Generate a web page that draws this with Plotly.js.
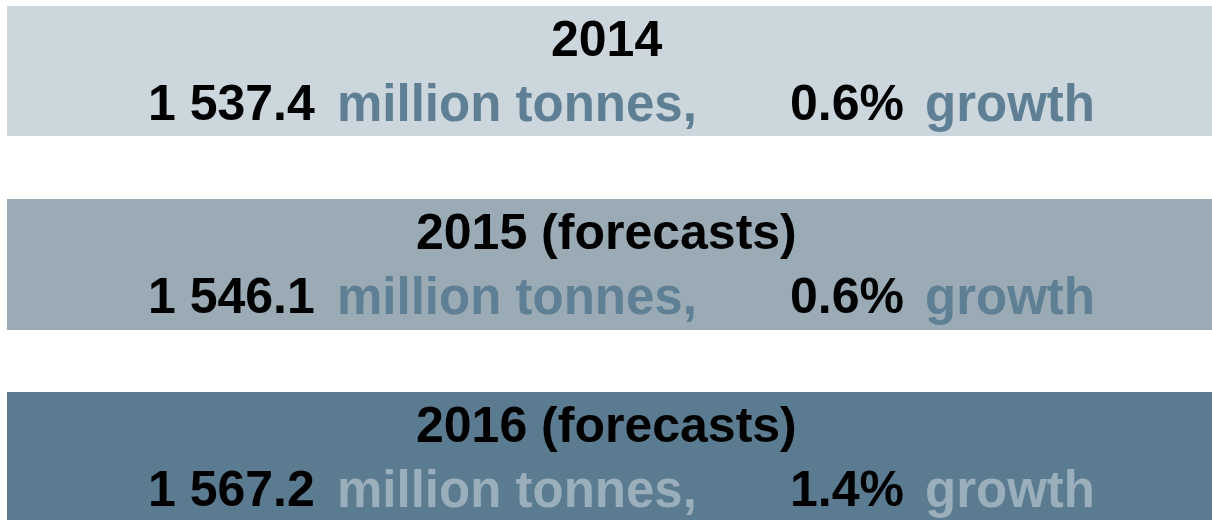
<!DOCTYPE html>
<html>
<head>
<meta charset="utf-8">
<script src="https://cdn.plot.ly/plotly-3.0.1.min.js"></script>
<style>html,body{margin:0;padding:0;background:#fff;}#chart{width:1212px;height:520px;}</style>
</head>
<body>
<div id="chart"></div>
<script>
// Data
const years = ['2014', '2015 (forecasts)', '2016 (forecasts)'];
const volumes = [1537.4, 1546.1, 1567.2];
const growthPct = [0.6, 0.6, 1.4];
const unitLabel = 'million tonnes,';
const growthLabel = 'growth';

// Styles
const bandColors = ['#cbd6dd', '#9aabb5', '#5b7b90'];
const labelColors = ['#5f7f94', '#5f7f94', '#9aaebb'];
const bandTop = [6, 199, 392];
const bandBottom = [136, 330, 520];
const FONT = '"Liberation Sans", Arial, sans-serif';

function fmt(v) {
  const parts = v.toFixed(1).split('.');
  const intPart = parts[0].replace(/\B(?=(\d{3})+(?!\d))/g, ' ');
  return intPart + '.' + parts[1];
}

function ann(x, y, anchor, text, size, color) {
  return {
    xref: 'x', yref: 'y', x: x, y: y,
    xanchor: anchor, yanchor: 'middle', showarrow: false,
    text: '<b>' + text + '</b>',
    font: {family: FONT, size: size, color: color}
  };
}

const shapes = [];
const annotations = [];
years.forEach((yr, i) => {
  shapes.push({
    type: 'rect', xref: 'x', yref: 'y',
    x0: 7, x1: 1212, y0: bandTop[i], y1: bandBottom[i],
    fillcolor: bandColors[i], line: {width: 0}, layer: 'below'
  });
  const y2 = bandTop[i] + 97;
  annotations.push(ann(606, bandTop[i] + 33, 'center', yr, 50, '#000000'));
  annotations.push(ann(146, y2, 'left', fmt(volumes[i]), 50, '#000000'));
  annotations.push(ann(335, y2, 'left', unitLabel, 51, labelColors[i]));
  annotations.push(ann(788, y2, 'left', growthPct[i].toFixed(1) + '%', 50, '#000000'));
  annotations.push(ann(923, y2, 'left', growthLabel, 51, labelColors[i]));
});

const layout = {
  width: 1212, height: 520,
  margin: {l: 0, r: 0, t: 0, b: 0, pad: 0},
  paper_bgcolor: '#ffffff', plot_bgcolor: '#ffffff',
  xaxis: {range: [0, 1212], visible: false, fixedrange: true},
  yaxis: {range: [520, 0], visible: false, fixedrange: true},
  shapes: shapes,
  annotations: annotations,
  showlegend: false
};

Plotly.newPlot('chart', [], layout, {staticPlot: true, displayModeBar: false});
</script>
</body>
</html>
